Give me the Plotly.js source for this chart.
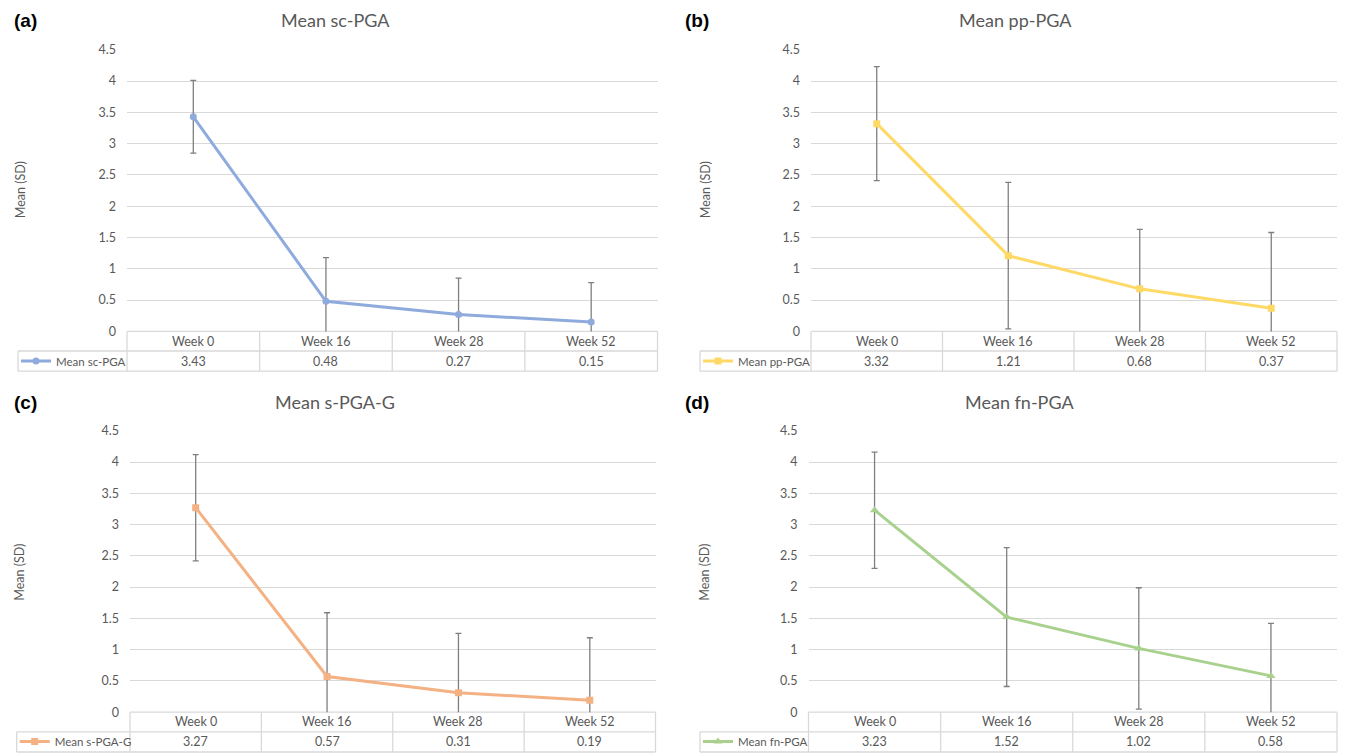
<!DOCTYPE html>
<html>
<head>
<meta charset="utf-8">
<script src="https://cdn.plot.ly/plotly-3.0.1.min.js"></script>
<style>html,body{margin:0;padding:0;background:#fff;}#chart{width:1346px;height:756px;}</style>
</head>
<body>
<div id="chart"></div>
<script>
// ---------- DATA ----------
const weeks = ['Week 0', 'Week 16', 'Week 28', 'Week 52'];
const yTickVals = [0, 0.5, 1, 1.5, 2, 2.5, 3, 3.5, 4, 4.5];
const yTickText = ['0', '0.5', '1', '1.5', '2', '2.5', '3', '3.5', '4', '4.5'];

const panelLabels = ['(a)', '(b)', '(c)', '(d)'];
const chartTitles = ['Mean sc-PGA', 'Mean pp-PGA', 'Mean s-PGA-G', 'Mean fn-PGA'];
const seriesNames = ['Mean sc-PGA', 'Mean pp-PGA', 'Mean s-PGA-G', 'Mean fn-PGA'];
const yAxisTitle = 'Mean (SD)';

const scPGA = [3.43, 0.48, 0.27, 0.15];
const scPGA_sd = [0.58, 0.70, 0.58, 0.63];
const ppPGA = [3.32, 1.21, 0.68, 0.37];
const ppPGA_sd = [0.91, 1.17, 0.95, 1.21];
const sPGAG = [3.27, 0.57, 0.31, 0.19];
const sPGAG_sd = [0.85, 1.02, 0.95, 1.00];
const fnPGA = [3.23, 1.52, 1.02, 0.58];
const fnPGA_sd = [0.93, 1.11, 0.97, 0.84];

const seriesMeans = [scPGA, ppPGA, sPGAG, fnPGA];
const seriesSDs = [scPGA_sd, ppPGA_sd, sPGAG_sd, fnPGA_sd];

// ---------- STYLE / GEOMETRY ----------
const W = 1346, H = 756;
const fx = p => p / W;
const fy = p => 1 - p / H;
const FONT = 'Lato, "Open Sans", sans-serif';
const TXT = '#595959';
const GRID = '#d9d9d9';
const colors = ['#8faadc', '#ffd966', '#f4b183', '#a9d18e'];
const symbols = ['circle', 'square', 'square', 'triangle-up'];

const panels = [
  {xa: 'x',  ya: 'y',  L: 127,   R: 657.5, T: 50,    B: 332.7, M: 352.4, E: 372.7, legL: 18,   lab: [12, 21],  tit: [335, 20],   yt: [20, 191]},
  {xa: 'x2', ya: 'y2', L: 811,   R: 1337,  T: 50,    B: 332.7, M: 352.4, E: 372.7, legL: 700,  lab: [683, 21], tit: [1015, 20],  yt: [705, 191]},
  {xa: 'x3', ya: 'y3', L: 130,   R: 655.5, T: 432.5, B: 715,   M: 734.7, E: 755,   legL: 16.7, lab: [12, 404], tit: [335, 404],  yt: [20, 575]},
  {xa: 'x4', ya: 'y4', L: 808.5, R: 1337,  T: 432.5, B: 715,   M: 734.7, E: 755,   legL: 700,  lab: [683, 404],tit: [1019, 404], yt: [705, 575]}
];

const traces = [];
const layout = {
  width: W, height: H,
  margin: {l: 0, r: 0, t: 0, b: 0},
  paper_bgcolor: '#fff', plot_bgcolor: '#fff',
  showlegend: true,
  font: {family: FONT, color: TXT, size: 12.5},
  annotations: [], shapes: []
};

panels.forEach((p, i) => {
  const sfx = i === 0 ? '' : String(i + 1);
  const legKey = 'legend' + sfx;
  traces.push({
    type: 'scatter', mode: 'lines+markers',
    x: weeks, y: seriesMeans[i],
    xaxis: p.xa, yaxis: p.ya,
    name: seriesNames[i],
    legend: legKey,
    showlegend: true,
    line: {color: colors[i], width: 3},
    marker: {color: colors[i], size: symbols[i] === 'triangle-up' ? 8 : 7, symbol: symbols[i]},
    error_y: {type: 'data', array: seriesSDs[i], symmetric: true, visible: true,
              color: '#7f7f7f', thickness: 1.3, width: 3},
    hoverinfo: 'x+y'
  });

  layout['xaxis' + sfx] = {
    domain: [fx(p.L), fx(p.R)], anchor: p.ya,
    type: 'category', range: [-0.5, 3.5],
    showticklabels: false, showgrid: false, zeroline: false, showline: false, ticks: ''
  };
  layout['yaxis' + sfx] = {
    domain: [fy(p.B), fy(p.T)], anchor: p.xa,
    range: [0, 4.5], tickvals: yTickVals, ticktext: yTickText,
    showgrid: true, gridcolor: GRID, gridwidth: 1, zeroline: false, showline: false,
    ticks: '', ticklabelstandoff: 10,
    tickfont: {family: FONT, color: TXT, size: 12.5}
  };
  layout[legKey] = {
    x: fx(p.legL - 2), xanchor: 'left', y: fy((p.M + p.E) / 2), yanchor: 'middle',
    bgcolor: 'rgba(0,0,0,0)', borderwidth: 0,
    font: {family: FONT, color: TXT, size: 11.5},
    itemwidth: 30, visible: true
  };

  // panel label, title, y-axis title
  layout.annotations.push({
    xref: 'paper', yref: 'paper', x: fx(p.lab[0]), y: fy(p.lab[1]), xanchor: 'left', yanchor: 'middle',
    text: '<b>' + panelLabels[i] + '</b>', showarrow: false,
    font: {family: '"Liberation Sans", Arial, sans-serif', size: 19, color: '#000'}
  });
  layout.annotations.push({
    xref: 'paper', yref: 'paper', x: fx(p.tit[0]), y: fy(p.tit[1]), xanchor: 'center', yanchor: 'middle',
    text: chartTitles[i], showarrow: false,
    font: {family: FONT, size: 18, color: TXT}
  });
  layout.annotations.push({
    xref: 'paper', yref: 'paper', x: fx(p.yt[0]), y: fy(p.yt[1]), xanchor: 'center', yanchor: 'middle',
    text: yAxisTitle, textangle: -90, showarrow: false,
    font: {family: FONT, size: 12.5, color: TXT}
  });

  // data table: header & values
  weeks.forEach((w, k) => {
    layout.annotations.push({
      xref: p.xa, yref: 'paper', x: w, y: fy((p.B + p.M) / 2), xanchor: 'center', yanchor: 'middle',
      text: w, showarrow: false, font: {family: FONT, size: 12.5, color: TXT}
    });
    layout.annotations.push({
      xref: p.xa, yref: 'paper', x: w, y: fy((p.M + p.E) / 2), xanchor: 'center', yanchor: 'middle',
      text: seriesMeans[i][k].toFixed(2), showarrow: false, font: {family: FONT, size: 12.5, color: TXT}
    });
  });

  // table borders
  const ln = {color: GRID, width: 1.3};
  const hl = (x0, x1, y) => layout.shapes.push({type: 'line', xref: 'paper', yref: 'paper', x0: fx(x0), x1: fx(x1), y0: fy(y), y1: fy(y), line: ln, layer: 'below'});
  const vl = (x, y0, y1) => layout.shapes.push({type: 'line', xref: 'paper', yref: 'paper', x0: fx(x), x1: fx(x), y0: fy(y0), y1: fy(y1), line: ln, layer: 'below'});
  hl(p.L, p.R, p.B);
  hl(p.legL, p.R, p.M);
  hl(p.legL, p.R, p.E);
  vl(p.legL, p.M, p.E);
  vl(p.L, p.B, p.E);
  vl(p.R, p.B, p.E);
  [0.5, 1.5, 2.5].forEach(b => {
    layout.shapes.push({type: 'line', xref: p.xa, yref: 'paper', x0: b, x1: b, y0: fy(p.B), y1: fy(p.E), line: ln, layer: 'below'});
  });
});

Plotly.newPlot('chart', traces, layout, {displayModeBar: false, staticPlot: true});
</script>
</body>
</html>
